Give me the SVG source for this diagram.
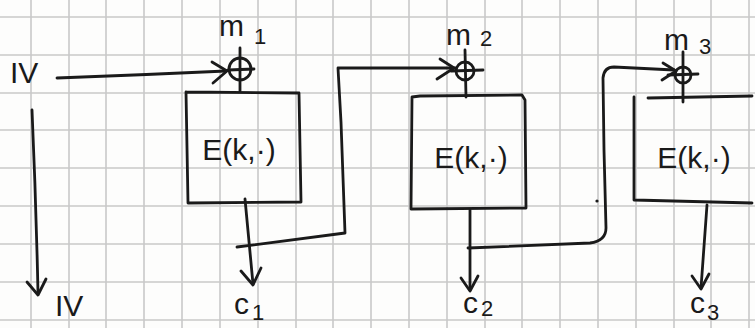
<svg xmlns="http://www.w3.org/2000/svg" width="755" height="328" viewBox="0 0 755 328">
<defs>
<style>
.grid line{stroke:#c8c8c8;stroke-width:1.6}
.ink{fill:none;stroke:#1a1a1a;stroke-width:2.8;stroke-linecap:round;stroke-linejoin:round}
.lbl{font-family:"Liberation Sans","DejaVu Sans",sans-serif;fill:#1a1a1a}
.big{font-size:30px}
.box{font-size:30px}
.sub{font-size:22px}
</style>
</defs>
<rect width="755" height="328" fill="#fdfdfc"/>
<g class="grid">
<line x1="31" y1="0" x2="31" y2="328"/><line x1="69" y1="0" x2="69" y2="328"/><line x1="106" y1="0" x2="106" y2="328"/><line x1="144" y1="0" x2="144" y2="328"/><line x1="182" y1="0" x2="182" y2="328"/><line x1="220" y1="0" x2="220" y2="328"/><line x1="258" y1="0" x2="258" y2="328"/><line x1="296" y1="0" x2="296" y2="328"/><line x1="333" y1="0" x2="333" y2="328"/><line x1="371" y1="0" x2="371" y2="328"/><line x1="409" y1="0" x2="409" y2="328"/><line x1="447" y1="0" x2="447" y2="328"/><line x1="485" y1="0" x2="485" y2="328"/><line x1="522" y1="0" x2="522" y2="328"/><line x1="560" y1="0" x2="560" y2="328"/><line x1="598" y1="0" x2="598" y2="328"/><line x1="636" y1="0" x2="636" y2="328"/><line x1="674" y1="0" x2="674" y2="328"/><line x1="711" y1="0" x2="711" y2="328"/><line x1="749" y1="0" x2="749" y2="328"/>
<line x1="0" y1="17" x2="755" y2="17"/><line x1="0" y1="55" x2="755" y2="55"/><line x1="0" y1="93" x2="755" y2="93"/><line x1="0" y1="130" x2="755" y2="130"/><line x1="0" y1="168" x2="755" y2="168"/><line x1="0" y1="206" x2="755" y2="206"/><line x1="0" y1="244" x2="755" y2="244"/><line x1="0" y1="282" x2="755" y2="282"/><line x1="0" y1="320" x2="755" y2="320"/>
</g>
<g id="iv-in">
<text class="lbl big" x="10" y="83">IV</text>
</g>
<g id="iv-out">
<text class="lbl big" x="55" y="316">IV</text>
</g>
<g id="xor1">
<circle class="ink" cx="240" cy="69" r="11"/>
<line class="ink" x1="240" y1="48" x2="240" y2="91"/>
<line class="ink" x1="228" y1="70" x2="254" y2="69"/>
<text class="lbl big" x="219" y="36">m</text><text class="lbl sub" x="254" y="44">1</text>
</g>
<g id="block1">
<polyline class="ink" points="186,92 299,93 301,202 188,203 186,92"/>
<text class="lbl box" x="239" y="160" text-anchor="middle">E(k,·)</text>
<text class="lbl big" x="234" y="314">c</text><text class="lbl sub" x="252" y="320">1</text>
</g>
<g id="xor2">
<circle class="ink" cx="465" cy="71" r="9"/>
<line class="ink" x1="465" y1="50" x2="466" y2="97"/>
<line class="ink" x1="451" y1="71" x2="483" y2="70"/>
<text class="lbl big" x="446" y="45">m</text><text class="lbl sub" x="480" y="46">2</text>
</g>
<g id="block2">
<polyline class="ink" points="412,97 420,96 522,95 525,100 526,208 411,209 412,97"/>
<text class="lbl box" x="471" y="168" text-anchor="middle">E(k,·)</text>
<text class="lbl big" x="463" y="313">c</text><text class="lbl sub" x="481" y="316">2</text>
</g>
<g id="xor3">
<circle class="ink" cx="683" cy="75" r="8"/>
<line class="ink" x1="683" y1="52" x2="683" y2="102"/>
<line class="ink" x1="668" y1="75" x2="698" y2="74"/>
<text class="lbl big" x="664" y="50">m</text><text class="lbl sub" x="699" y="54">3</text>
</g>
<g id="block3">
<polyline class="ink" points="648,98 752,96"/>
<polyline class="ink" points="634,97 634,200 752,203"/>
<text class="lbl box" x="694" y="168" text-anchor="middle">E(k,·)</text>
<text class="lbl big" x="690" y="313">c</text><text class="lbl sub" x="707" y="320">3</text>
</g>
<g id="connectors">
<path class="ink" d="M57,78 Q140,75 226,71"/>
<polyline class="ink" points="212,62 227,71 213,83"/>
<path class="ink" d="M32,110 Q36,200 38,293"/>
<polyline class="ink" points="27,282 38,295 46,279"/>
<path class="ink" d="M245,199 L253,284"/>
<polyline class="ink" points="241,271 253,285 261,268"/>
<path class="ink" d="M237,247 L345,233 L341,122 L338,68 L455,68"/>
<polyline class="ink" points="440,59 454,68 437,79"/>
<path class="ink" d="M470,210 L470,290"/>
<polyline class="ink" points="461,278 470,291 478,276"/>
<path class="ink" d="M468,248 L590,243 Q606,241 606,228 L604,150 L603,78 Q604,67 614,67 L674,70"/>
<polyline class="ink" points="663,63 676,71 662,80"/>
<path class="ink" d="M707,205 L701,288"/>
<polyline class="ink" points="692,276 701,289 709,274"/>
<circle cx="597" cy="201" r="1.6" fill="#1a1a1a"/>
</g>
</svg>
